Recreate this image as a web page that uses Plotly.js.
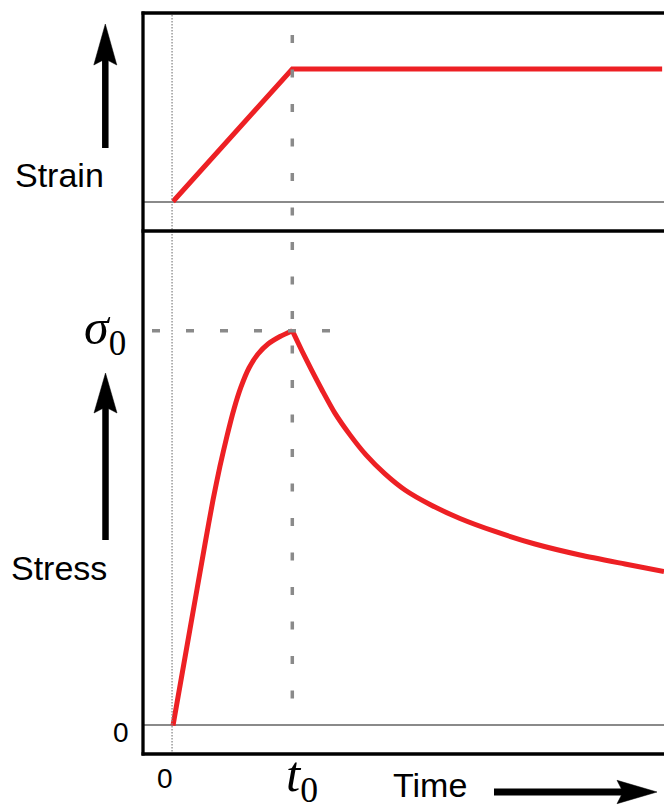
<!DOCTYPE html>
<html>
<head>
<meta charset="utf-8">
<script src="https://cdn.plot.ly/plotly-3.0.1.min.js"></script>
<style>html,body{margin:0;padding:0;background:#fff;}#chart{width:664px;height:810px;}</style>
</head>
<body>
<div id="chart"></div>
<script>
// ---- data (time in units of t0, strain / stress normalised) ----
const strainTime = [0, 1, 4.1];
const strainValues = [0, 1, 1];

const stressRiseTime = [0, 0.1425, 0.2682, 0.3353, 0.3940, 0.4526, 0.5113, 0.5700, 0.6370, 0.7125, 0.7963, 0.8969, 1.0];
const stressRiseValues = [0, 0.2444, 0.4597, 0.5712, 0.6573, 0.7333, 0.8017, 0.8574, 0.9055, 0.9410, 0.9663, 0.9853, 1.0];

const stressRelaxTime = [1.0, 1.0813, 1.1651, 1.2490, 1.3558, 1.4836, 1.6177, 1.7770, 1.9447, 2.1542, 2.4057, 2.6991, 3.0344, 3.4116, 3.7888, 4.1157];
const stressRelaxValues = [1.0, 0.9486, 0.8980, 0.8498, 0.7918, 0.7361, 0.6854, 0.6373, 0.5965, 0.5598, 0.5243, 0.4914, 0.4597, 0.4319, 0.4091, 0.3901];

const xTickLabels = ['0', '<i>t</i><sub>0</sub>'];
const yTickLabels = ['0', '<i>σ</i><sub>0</sub>'];
const axisLabels = {strain: 'Strain', stress: 'Stress', time: 'Time'};

// ---- layout helpers (pixel -> paper) ----
const W = 664, H = 810, L = 143, T = 13, B = 56;
const PW = W - L, PH = H - T - B;
const px = x => (x - L) / PW;
const py = y => (H - B - y) / PH;
const split = py(231);

const red = '#ED2024';
const grey = '#8a8a8a';
const sans = 'Liberation Sans, Arial, sans-serif';
const serif = 'Liberation Serif, Times New Roman, serif';

const traces = [
  {x: strainTime, y: strainValues, xaxis: 'x', yaxis: 'y', mode: 'lines',
   line: {color: red, width: 5}, hoverinfo: 'skip'},
  {x: stressRiseTime, y: stressRiseValues, xaxis: 'x2', yaxis: 'y2', mode: 'lines',
   line: {color: red, width: 5, shape: 'spline', smoothing: 0.7}, hoverinfo: 'skip'},
  {x: stressRelaxTime, y: stressRelaxValues, xaxis: 'x2', yaxis: 'y2', mode: 'lines',
   line: {color: red, width: 5, shape: 'spline', smoothing: 0.7}, hoverinfo: 'skip'}
];

const xRange = [(143 - 173) / 119.3, (664 - 173) / 119.3];
const baseAxis = {showgrid: false, showticklabels: false, ticks: '', showline: false, fixedrange: true};

function arrowPath(tip, base, halfW, notch, dir) {
  if (dir === 'up') {
    return `M ${px(tip[0])} ${py(tip[1])} L ${px(tip[0] + halfW)} ${py(base)} L ${px(tip[0])} ${py(base - notch)} L ${px(tip[0] - halfW)} ${py(base)} Z`;
  }
  return `M ${px(tip[0])} ${py(tip[1])} L ${px(base)} ${py(tip[1] - halfW)} L ${px(base + notch)} ${py(tip[1])} L ${px(base)} ${py(tip[1] + halfW)} Z`;
}

const shapes = [
  // dotted vertical at t = 0
  {type: 'line', xref: 'x', yref: 'paper', x0: -0.008, x1: -0.008, y0: py(12), y1: py(756),
   line: {color: grey, width: 1.3, dash: '1.5px,1.5px'}},
  // dashed vertical at t0
  {type: 'line', xref: 'x', yref: 'paper', x0: 1, x1: 1, y0: py(35), y1: py(726),
   line: {color: grey, width: 3.5, dash: '8px,26.5px'}},
  // dashed horizontal at sigma0
  {type: 'line', xref: 'x2', yref: 'y2', x0: (152 - 173) / 119.3, x1: (331 - 173) / 119.3, y0: 1, y1: 1,
   line: {color: grey, width: 3.5, dash: '8px,26px'}},
  // frame
  {type: 'line', xref: 'paper', yref: 'paper', x0: px(143), x1: px(143), y0: py(11.5), y1: py(755.5), line: {color: '#000', width: 3.3}},
  {type: 'line', xref: 'paper', yref: 'paper', x0: px(141.5), x1: px(666), y0: py(13), y1: py(13), line: {color: '#000', width: 3.3}},
  {type: 'line', xref: 'paper', yref: 'paper', x0: px(141.5), x1: px(666), y0: split, y1: split, line: {color: '#000', width: 3.3}},
  {type: 'line', xref: 'paper', yref: 'paper', x0: px(141.5), x1: px(666), y0: py(754), y1: py(754), line: {color: '#000', width: 3.5}},
  // arrows
  {type: 'line', xref: 'paper', yref: 'paper', x0: px(105.3), x1: px(105.3), y0: py(148), y1: py(58), line: {color: '#000', width: 6.5}},
  {type: 'path', xref: 'paper', yref: 'paper', path: arrowPath([105.3, 24], 65, 11.5, 6, 'up'), fillcolor: '#000', line: {color: '#000', width: 0.5}},
  {type: 'line', xref: 'paper', yref: 'paper', x0: px(105.5), x1: px(105.5), y0: py(540), y1: py(406), line: {color: '#000', width: 6.5}},
  {type: 'path', xref: 'paper', yref: 'paper', path: arrowPath([105.5, 373], 413, 11.5, 6, 'up'), fillcolor: '#000', line: {color: '#000', width: 0.5}},
  {type: 'line', xref: 'paper', yref: 'paper', x0: px(494), x1: px(625), y0: py(792), y1: py(792), line: {color: '#000', width: 7}},
  {type: 'path', xref: 'paper', yref: 'paper', path: arrowPath([657, 792], 617, 11.7, 6, 'right'), fillcolor: '#000', line: {color: '#000', width: 0.5}}
];

const ann = (text, x, y, size, family, xanchor) => ({
  text: text, xref: 'paper', yref: 'paper', x: px(x), y: py(y), showarrow: false,
  xanchor: xanchor || 'center', yanchor: 'middle', font: {family: family, size: size, color: '#000'}
});

const annotations = [
  ann(axisLabels.strain, 59.5, 175, 34, sans),
  ann(axisLabels.stress, 58.5, 567.5, 34, sans),
  ann(axisLabels.time, 430, 785, 34, sans),
  ann(yTickLabels[0], 121, 732, 28, sans),
  ann(xTickLabels[0], 165, 778.5, 28, sans),
  ann(yTickLabels[1], 128, 331, 50, serif, 'right'),
  ann(xTickLabels[1], 302, 778, 51, serif)
];

const layout = {
  width: W, height: H,
  margin: {l: L, r: 0, t: T, b: B, pad: 0},
  paper_bgcolor: '#fff', plot_bgcolor: '#fff',
  showlegend: false,
  xaxis: Object.assign({}, baseAxis, {domain: [0, 1], anchor: 'y', range: xRange, zeroline: false}),
  xaxis2: Object.assign({}, baseAxis, {domain: [0, 1], anchor: 'y2', range: xRange, zeroline: false}),
  yaxis: Object.assign({}, baseAxis, {domain: [split, 1], anchor: 'x', range: [-0.2226, 1.4226],
    zeroline: true, zerolinecolor: grey, zerolinewidth: 2}),
  yaxis2: Object.assign({}, baseAxis, {domain: [0, split], anchor: 'x2', range: [-0.0722, 1.2525],
    zeroline: true, zerolinecolor: grey, zerolinewidth: 2}),
  shapes: shapes,
  annotations: annotations
};

Plotly.newPlot('chart', traces, layout, {staticPlot: true, displayModeBar: false});
</script>
</body>
</html>
